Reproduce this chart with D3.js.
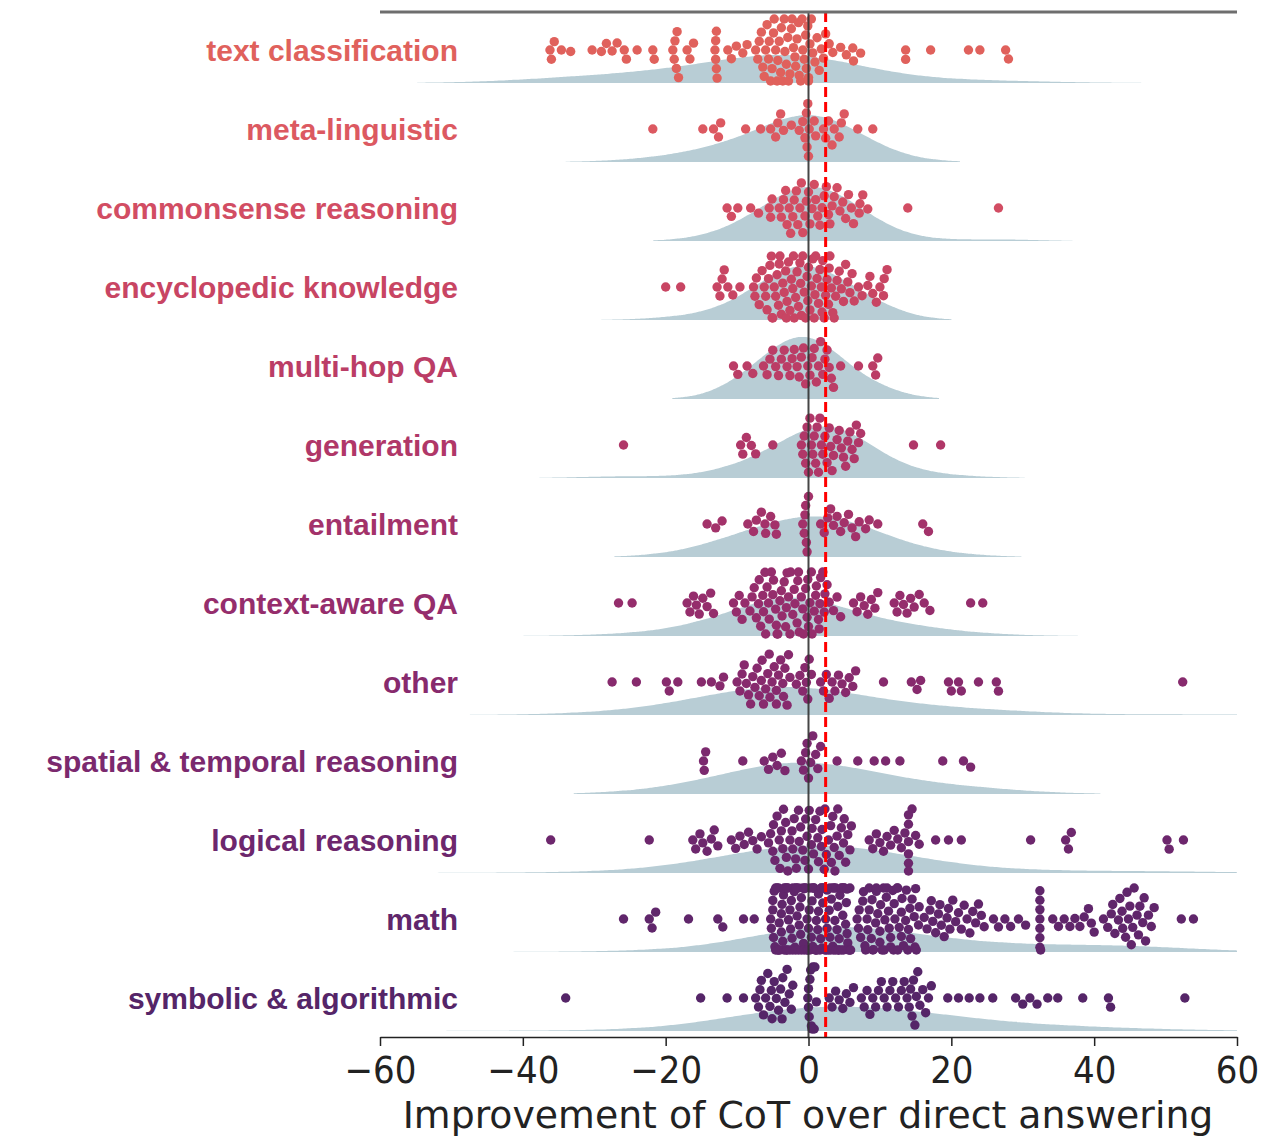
<!DOCTYPE html>
<html>
<head>
<meta charset="utf-8">
<script src="https://cdn.jsdelivr.net/npm/d3@7"></script>
<style>
  body { margin: 0; background: #fff; }
  svg { display: block; }
</style>
</head>
<body>
<svg id="chart"></svg>
<script>
// Top level svg dimensions
const dimen = { width: 1287, height: 1136 };

// ---- data ----
const categories = [
  "text classification", "meta-linguistic", "commonsense reasoning",
  "encyclopedic knowledge", "multi-hop QA", "generation", "entailment",
  "context-aware QA", "other", "spatial & temporal reasoning",
  "logical reasoning", "math", "symbolic & algorithmic"
];

const textClassification = [-36.2,-36,-35.6,-34.6,-33.3,
  -30.3,-29,-28.3,-27.5,-26.8,-25.8,-25.5,-24,-21.8,-21.6,
  -19,-18.8,-18.7,-18.5,-18.4,-18.2,-17,-16.6,-16.1,
  -13.1,-13,-13,-12.9,-12.9,-12.8,-11.3,-10.8,-10.1,-9.2,-8.6,
  -7.4,-7.1,-6.9,-6.6,-6.4,-6.2,-6,-5.8,-5.6,-5.5,-5.3,-5.1,-4.9,-4.8,-4.6,-4.4,-4.3,-4.1,-3.9,-3.8,
  -3.6,-3.4,-3.3,-3.1,-2.9,-2.8,-2.6,-2.4,-2.3,-2.1,-1.9,-1.8,-1.6,-1.4,-1.3,-1.1,-0.9,-0.8,-0.6,
  -0.4,-0.3,-0.1,0,0,0.2,0.4,0.6,0.9,1.2,1.5,1.8,2.1,2.4,
  2.9,3.4,4.5,5.3,6.2,6.3,7.3,
  13.6,13.6,17.1,22.4,24,27.6,28];
const metaLinguistic = [-21.8,-14.8,-13.3,-12.6,-12.3,-8.8,-6.7,-5.3,-4.6,-4.3,-3.9,-3.5,-2.4,-1.3,
  -0.8,-0.5,-0.3,-0.2,-0.1,0,0.1,0.8,1,2.1,2.4,2.8,3.3,3.6,4.3,4.6,5,6.9,9];
const commonsense = [-11.4,-10.8,-9.9,-8.1,-7,-5.5,-5.3,-5.1,-4.1,-3.8,-3.5,-3.2,-3,-2.7,-2.5,-2.2,-2,
  -1.7,-1.5,-1.2,-1,-0.8,-0.5,-0.3,0,0.2,0.5,0.8,1,1.3,1.6,1.9,2.2,2.5,2.8,3,3.3,3.6,4,4.4,4.8,5.2,
  5.6,6,6.3,7.1,7.2,7.6,8.3,13.9,26.6];
const encyclopedic = [-20,-17.9,-12.8,-12.4,-12.1,-11.8,-11.3,-10.6,-9.6,
  -7.7,-7.5,-7.3,-6.9,-6.5,-6.2,-6,-5.8,-5.6,-5.4,-5.2,-5,-4.8,-4.6,-4.4,-4.2,-4,-3.8,-3.6,-3.4,-3.2,
  -3,-2.8,-2.6,-2.4,-2.2,-2,-1.8,-1.6,-1.4,-1.2,-1,-0.8,-0.6,-0.4,-0.2,0,0.2,0.4,0.6,0.8,1,1.2,1.4,
  1.6,1.8,2,2.2,2.4,2.6,2.8,3,3.2,3.4,3.6,3.8,4,4.3,4.6,4.9,5.2,5.5,5.8,6.1,6.4,
  -3.1,-2.1,-1.1,-0.1,0.9,1.9,2.9,-4.1,-5.1,
  7,7.5,8.3,8.6,9,9.5,10,10.5,10.6,11];
const multiHop = [-10.5,-9.9,-8.6,-7.8,-6.3,-5.8,-5.4,-5,-4.6,-4.2,-3.8,-3.4,-3,-2.6,-2.3,-2,-1.6,
  -1.3,-1,-0.7,-0.4,-0.1,0.2,0.5,0.8,1.1,1.4,1.7,2,2.3,2.6,2.9,3.2,3.5,4.5,7,9,9.4,9.7];
const generation = [-25.9,-9.5,-9.2,-8.7,-8,-7.4,-5,-1,-0.8,-0.6,-0.4,-0.2,0,0.2,0.4,0.6,0.8,1,1.2,
  1.4,1.6,1.8,2,2.3,2.6,2.9,3.1,3.3,3.5,4,4.3,4.6,4.9,5.2,5.5,5.8,6.1,6.4,6.7,7,7.3,14.7,18.5];
const entailment = [-14.2,-13,-12.1,-8.5,-7.7,-7.3,-6.6,-6.1,-6,-5.3,-4.7,-4.5,-0.8,-0.6,-0.5,-0.4,
  -0.3,-0.2,0,1.7,2.2,2.7,3.1,3.5,4,4.5,5,5.6,6.1,6.6,7.1,8,8.5,9.7,16,16.8];
const contextQA = [-26.6,-24.7,
  -17,-16.6,-16.1,-15.7,-15.3,-14.8,-14.2,-13.7,-13.3,
  -10.5,-10.1,-9.7,-9.3,-8.9,
  -8.2,-7.9,-7.6,-7.3,-7,-6.7,-6.4,-6.1,-5.8,-5.5,-5.2,-4.9,-4.6,-4.3,-4,-3.7,-3.4,-3.1,-2.8,-2.5,
  -2.2,-1.9,-1.6,-1.3,-1,-0.7,-0.4,-0.1,0.2,0.5,0.8,1.1,1.4,1.7,2,2.3,2.6,2.9,
  -6.9,-6.3,-5.6,-5,-4.4,-3.8,-3.2,-2.6,-2,-1.4,-0.8,-0.2,0.4,1,1.6,2.2,-6,-4.5,-3,-1.5,0,1.5,
  3.5,4,4.5,
  6.3,6.8,7.3,7.8,8.3,8.8,9.3,9.7,
  12,12.4,12.8,13.3,13.8,14.3,14.8,15.5,16.2,17,
  22.7,24.4];
const other = [-27.5,-24.1,-19.9,-19.5,-18.3,-15,-13.6,-12.4,-11.9,
  -10,-9.6,-9.3,-9,-8.7,-8.4,-8.1,-7.8,-7.5,-7.2,-6.9,-6.6,-6.5,-6.3,-6,-5.7,-5.5,-5.4,-5.1,-4.8,
  -4.5,-4.5,-4.2,-3.9,-3.6,-3.5,-3.3,-3,-2.8,-2.6,
  -1.7,-1.2,-0.8,-0.5,-0.3,-0.1,0.1,0.4,
  1.7,2.1,2.5,2.9,3.3,3.7,4.2,4.7,5.2,5.7,6.2,6.6,
  10.5,14.4,15.2,15.7,19.6,20,21,21.4,23.8,26.3,26.6,52.4];
const spatialTemporal = [-14.7,-14.6,-14.4,-9.2,-6.2,-5.6,-5,-4.4,-3.8,-3.3,-1,-0.7,-0.4,-0.2,0,0.3,
  0.6,1,1.3,1.7,4,6.9,9.2,10.8,12.8,18.8,21.7,22.7];
const logical = [-36.1,-22.3,
  -16.2,-15.8,-15.2,-14.8,-14.2,-13.6,-13.2,-12.7,
  -10.8,-10.2,-9.6,-9,-8.4,-7.8,-7.2,-6.6,
  -5.6,-5.3,-5,-4.7,-4.4,-4.1,-3.8,-3.5,-3.2,-2.9,-2.6,-2.3,-2,-1.7,-1.4,-1.1,-0.8,-0.5,-0.2,0.1,
  0.4,0.7,1,1.3,1.6,1.9,2.2,2.5,2.8,3.1,3.4,3.7,4,4.3,4.6,4.9,5.2,5.5,5.8,6,
  -4.9,-4,-3.1,-2.2,-1.3,-0.4,0.5,1.4,2.3,3.2,4.1,5,-3.6,-1.8,0,1.8,3.6,
  8.5,9,9.5,10,10.5,11,11.5,12,12.5,13,13.5,14,14,14,14,14,14,14.5,15,15.5,
  17.8,19.6,21.4,
  31.1,36,36.4,36.8,
  50.2,50.5,52.5];
const math = [-25.9,-22.3,-21.9,-21.4,-16.8,-12.7,-12,-9.1,-7.6,
  -5.3,-5,-4.7,-4.4,-4.1,-3.8,-3.5,-3.2,-2.9,-2.6,-2.3,-2,-1.7,-1.4,-1.1,-0.8,-0.5,-0.2,0.1,0.4,0.7,
  1,1.3,1.6,1.9,2.2,2.5,2.8,3.1,3.4,3.7,4,4.3,4.6,4.9,5.2,5.5,5.8,
  -5.2,-4.9,-4.6,-4.3,-4,-3.7,-3.4,-3.1,-2.8,-2.5,-2.2,-1.9,-1.6,-1.3,-1,-0.7,-0.4,-0.1,0.2,0.5,0.8,
  1.1,1.4,1.7,2,2.3,2.6,2.9,3.2,3.5,3.8,4.1,4.4,4.7,5,5.3,5.6,5.9,
  -5,-4.6,-4.2,-3.8,-3.4,-3,-2.6,-2.2,-1.8,-1.4,-1,-0.6,-0.2,0.2,0.6,1,1.4,1.8,2.2,2.6,3,3.4,3.8,
  4.2,4.6,5,5.4,5.8,
  -4.8,-4.2,-3.6,-3,-2.4,-1.8,-1.2,-0.6,0,0.6,1.2,1.8,2.4,3,3.6,4.2,4.8,5.4,
  6.8,7,7.3,7.6,7.9,8.2,8.5,8.8,9.1,9.4,9.7,10,10.3,10.6,10.9,11.2,11.5,11.8,12.1,12.4,12.7,13,
  13.3,13.6,13.9,14.2,14.5,14.8,15.1,15.4,
  7.1,7.7,8.3,8.9,9.5,10.1,10.7,11.3,11.9,12.5,13.1,13.7,14.3,14.9,15.5,
  8,9,10,11,12,13,14,15,8.5,9.5,10.5,11.5,12.5,
  16.2,16.6,17,17.4,17.8,18.2,18.6,19,19.4,19.8,20.2,20.6,21,21.4,21.8,22.2,22.6,23,23.4,23.8,
  24.2,24.6,17.2,18.4,19.6,
  25.9,26.6,27.5,28.3,29.4,30.4,
  32.4,32.4,32.4,32.4,32.4,32.4,32.4,32.5,
  34.2,35,35.8,36.6,37.3,38,38.6,39.2,39.6,40,
  41.3,41.9,42.4,42.9,43.4,43.9,44.4,44.8,45.2,45.6,46,46.4,46.8,47.2,47.6,48,48.4,
  42.6,43.6,44.6,45.4,46.2,47,45,44,
  52.2,53.9];
const symbolic = [-34,-15.1,-11.4,-9.1,
  -7.4,-7,-6.6,-6.3,-6,-5.7,-5.4,-5.1,-4.8,-4.5,-4.2,-3.9,-3.6,-3.3,-3,-2.7,-2.4,-2.2,-6.8,-5.2,-3.7,
  -0.1,0,0,0.1,0.2,0.3,0.4,0.5,0.6,0.8,0.9,1.1,
  2.9,3.3,3.8,4.3,4.8,5.3,5.8,6.3,
  7.4,7.8,8.2,8.6,9,9.4,9.8,10.2,10.6,11,11.4,11.8,12.2,12.6,13,13.4,13.8,14.1,14.3,14.5,14.7,
  14.9,15.1,15.3,15.6,16,16.4,16.8,17.2,
  19.5,21,22.5,24,25.8,
  29,30,31,32,33.5,34.9,
  38.4,42,42.3,52.7];

const seriesValues = [textClassification, metaLinguistic, commonsense, encyclopedic, multiHop,
  generation, entailment, contextQA, other, spatialTemporal, logical, math, symbolic];

const meanImprovement = 2.4;   // red dashed line
const xTicks = [-60, -40, -20, 0, 20, 40, 60];
const xLabel = "Improvement of CoT over direct answering";

// row colours, red at the top to purple at the bottom
const palette = ["#e0615c","#dc5961","#d24d63","#c84563","#bb3d66","#b03768","#a3326a",
  "#952d6c","#872a6d","#7b296e","#6d276d","#60266b","#552568"];

// ---- layout ----
const plot = { left: 380, right: 1237, top: 12, bottom: 1037 };
const dotR = 4.7;
const gutter = 31;
const densityK = 1000;  // px per unit of pdf

const x = d3.scaleLinear().domain([-60, 60]).range([plot.left, plot.right]);
const y = d3.scalePoint().domain(categories).range([50, 998]);

const svg = d3.select("#chart")
  .attr("width", dimen.width)
  .attr("height", dimen.height)
  .style("font-family", "'DejaVu Sans', sans-serif");

svg.append("defs").append("clipPath").attr("id", "plotClip")
  .append("rect")
    .attr("x", plot.left).attr("y", plot.top)
    .attr("width", plot.right - plot.left).attr("height", plot.bottom - plot.top);

const g = svg.append("g").attr("clip-path", "url(#plotClip)");

// gaussian kde, scott rule widened a bit (looks like the original)
function kde(values) {
  const n = values.length;
  const sd = d3.deviation(values);
  const bw = 1.8 * sd * Math.pow(n, -0.2);
  const lo = Math.max(-60, d3.min(values) - 2 * bw);
  const hi = Math.min(60, d3.max(values) + 2 * bw);
  const pts = [];
  for (let i = 0; i <= 200; i++) {
    const t = lo + (hi - lo) * i / 200;
    let s = 0;
    for (const v of values) { const z = (t - v) / bw; s += Math.exp(-0.5 * z * z); }
    pts.push([t, s / (n * bw * Math.sqrt(2 * Math.PI))]);
  }
  return pts;
}

// densities
categories.forEach((c, i) => {
  const base = y(c) + 33;
  const area = d3.area()
    .x(d => x(d[0]))
    .y0(base)
    .y1(d => base - d[1] * densityK)
    .curve(d3.curveBasis);
  g.append("path")
    .attr("class", "density")
    .attr("d", area(kde(seriesValues[i])))
    .attr("fill", "#b8cdd5");
});

// beeswarm, then clip to the gutter like seaborn does
function swarm(values) {
  const d = 2 * dotR;
  const pts = values.map(v => ({ v, x: x(v) })).sort((a, b) => a.x - b.x);
  const placed = [];
  for (const p of pts) {
    const near = placed.filter(q => Math.abs(q.x - p.x) < d);
    const cands = [0];
    for (const q of near) {
      const dy = Math.sqrt(d * d - (q.x - p.x) ** 2);
      cands.push(q.y + dy, q.y - dy);
    }
    cands.sort((a, b) => Math.abs(a) - Math.abs(b));
    let off = 0;
    for (const c of cands) {
      if (near.every(q => (q.x - p.x) ** 2 + (q.y - c) ** 2 >= d * d - 0.01)) { off = c; break; }
    }
    p.y = off;
    placed.push(p);
  }
  pts.forEach(p => { p.y = Math.max(-gutter, Math.min(gutter, p.y)); });
  return pts;
}

categories.forEach((c, i) => {
  g.append("g")
    .attr("class", "swarm")
    .selectAll("circle")
    .data(swarm(seriesValues[i]))
    .join("circle")
      .attr("cx", d => d.x)
      .attr("cy", d => y(c) + d.y)
      .attr("r", dotR)
      .attr("fill", palette[i]);
});

// zero line + mean line
svg.append("line")
  .attr("x1", x(0)).attr("x2", x(0))
  .attr("y1", plot.top).attr("y2", plot.bottom)
  .attr("stroke", "#333").attr("stroke-width", 2).attr("opacity", 0.9);

svg.append("line")
  .attr("x1", x(meanImprovement)).attr("x2", x(meanImprovement))
  .attr("y1", plot.top).attr("y2", plot.bottom)
  .attr("stroke", "#ff0000").attr("stroke-width", 3)
  .attr("stroke-dasharray", "10,5");

// top spine left over from the panel above
svg.append("line")
  .attr("x1", plot.left).attr("x2", plot.right)
  .attr("y1", plot.top).attr("y2", plot.top)
  .attr("stroke", "#6e6e6e").attr("stroke-width", 3);

// category labels
svg.append("g")
  .selectAll("text")
  .data(categories)
  .join("text")
    .attr("x", 458)
    .attr("y", d => y(d))
    .attr("dy", "0.35em")
    .attr("text-anchor", "end")
    .style("font-family", "'Liberation Sans', Arial, sans-serif")
    .style("font-weight", "bold")
    .style("font-size", "30px")
    .attr("fill", (d, i) => palette[i])
    .text(d => d);

// x axis
const axis = svg.append("g")
  .attr("transform", `translate(0,${plot.bottom})`)
  .call(d3.axisBottom(x).tickValues(xTicks).tickSize(9).tickSizeOuter(0));
axis.select(".domain").attr("stroke", "#222").attr("stroke-width", 1.5);
axis.selectAll(".tick line").attr("stroke", "#222").attr("stroke-width", 1.5);
axis.selectAll(".tick text")
  .attr("y", 19)
  .attr("fill", "#222")
  .style("font-family", "'DejaVu Sans', sans-serif")
  .style("font-size", "38px");
// the original is squeezed sideways a little
const tickW = axis.select(".tick text").node().getComputedTextLength();
axis.selectAll(".tick text").attr("transform", `scale(${72 / tickW},1)`);

const title = svg.append("text")
  .attr("text-anchor", "middle")
  .attr("fill", "#222")
  .style("font-family", "'DejaVu Sans', sans-serif")
  .style("font-size", "38px")
  .text(xLabel);
const titleW = title.node().getComputedTextLength();
title.attr("transform", `translate(808,1128) scale(${811 / titleW},1)`);
</script>
</body>
</html>
